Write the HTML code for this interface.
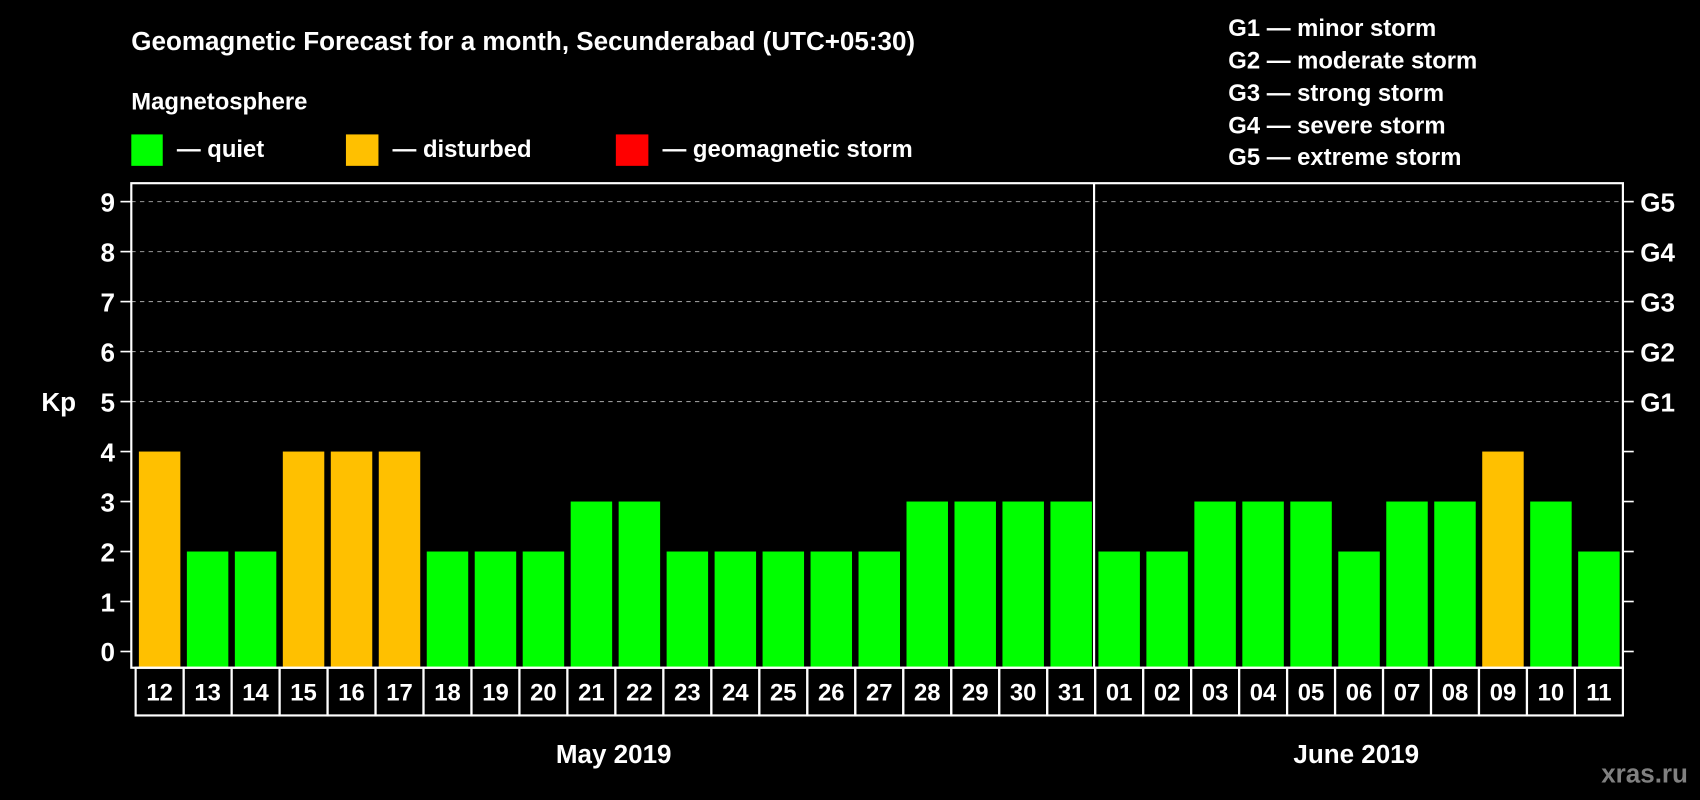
<!DOCTYPE html>
<html><head><meta charset="utf-8"><style>
html,body{margin:0;padding:0;background:#000;}
svg{display:block;font-family:"Liberation Sans",Arial,sans-serif;font-weight:bold;}
</style></head><body>
<svg id="chart" width="1700" height="800" viewBox="0 0 1568 738" xmlns="http://www.w3.org/2000/svg">
<rect width="1568" height="738" fill="#000"/>
<text x="121" y="46" fill="#fff" font-size="24">Geomagnetic Forecast for a month, Secunderabad (UTC+05:30)</text>
<text x="121" y="101" fill="#fff" font-size="22">Magnetosphere</text>
<g><rect x="121" y="124" width="29" height="29" fill="#00ff00"/><text x="163" y="145" fill="#fff" font-size="22">— quiet</text></g>
<g><rect x="319" y="124" width="30" height="29" fill="#ffc000"/><text x="362" y="145" fill="#fff" font-size="22">— disturbed</text></g>
<g><rect x="568" y="124" width="30" height="29" fill="#ff0000"/><text x="611" y="145" fill="#fff" font-size="22">— geomagnetic storm</text></g>
<g fill="#fff" font-size="22">
<text x="1133" y="33">G1 — minor storm</text>
<text x="1133" y="63">G2 — moderate storm</text>
<text x="1133" y="93">G3 — strong storm</text>
<text x="1133" y="123">G4 — severe storm</text>
<text x="1133" y="152">G5 — extreme storm</text>
</g>
<text x="38" y="379" fill="#fff" font-size="24">Kp</text>
<g id="grid"></g><g id="bars"></g><g id="axes"></g><g id="cells"></g>
<text x="566" y="704" fill="#fff" font-size="24" text-anchor="middle">May 2019</text>
<text x="1251" y="704" fill="#fff" font-size="24" text-anchor="middle">June 2019</text>
<text x="1557" y="722" fill="#808080" font-size="24" text-anchor="end">xras.ru</text>
</svg>
<script>
const days = ["12","13","14","15","16","17","18","19","20","21","22","23","24","25","26","27","28","29","30","31","01","02","03","04","05","06","07","08","09","10","11"];
const kpValues = [4,2,2,4,4,4,2,2,2,3,3,2,2,2,2,2,3,3,3,3,2,2,3,3,3,2,3,3,4,3,2];
const yTicks = [0,1,2,3,4,5,6,7,8,9];
const gLabels = ["","","","","","G1","G2","G3","G4","G5"];
const NS="http://www.w3.org/2000/svg";
const L=121,R=1497,T=169,B=616,X0=125;
const step=(R-X0)/days.length;
function y(v){return 601 - v*(601-186)/9;}
function x(i){return X0 + i*step;}
function mk(tag,attrs,parent){const e=document.createElementNS(NS,tag);for(const k in attrs)e.setAttribute(k,attrs[k]);parent.appendChild(e);return e;}
const grid=document.getElementById('grid'),bars=document.getElementById('bars'),axes=document.getElementById('axes'),cells=document.getElementById('cells');
yTicks.forEach((v,i)=>{
  if(v>=5){const g=mk('line',{x1:L,x2:R,y1:y(v),y2:y(v),stroke:'#999','stroke-width':1,'stroke-dasharray':'4,4'},grid);
  
  }
  const tl=mk('line',{x1:L-10,x2:L,y1:y(v),y2:y(v),stroke:'#fff','stroke-width':1.5},axes);
  
  
  const tr=mk('line',{x1:R,x2:R+10,y1:y(v),y2:y(v),stroke:'#fff','stroke-width':1.5},axes);
  
  
  const t=mk('text',{x:106,y:y(v)+9,fill:'#fff','font-size':24,'text-anchor':'end'},axes);t.textContent=v;
  
  
  if(gLabels[i]){const g=mk('text',{x:1513,y:y(v)+9,fill:'#fff','font-size':24},axes);g.textContent=gLabels[i];
  
  }
});
kpValues.forEach((v,i)=>{
  const col=v>=5?'#ff0000':(v>=4?'#ffc000':'#00ff00');
  const b=mk('rect',{x:x(i)+3,y:y(v),width:step-6,height:B-y(v),fill:col},bars);
  
  
  const c=mk('rect',{x:x(i),y:B,width:step,height:44,fill:'none',stroke:'#fff','stroke-width':2},cells);
  
  
  const t=mk('text',{x:x(i)+step/2,y:B+30,fill:'#fff','font-size':22,'text-anchor':'middle'},cells);t.textContent=days[i];
  
  
});
const frame=mk('rect',{x:L,y:T,width:R-L,height:B-T,fill:'none',stroke:'#fff','stroke-width':2},axes);


const split=days.indexOf("01");
const d=mk('line',{x1:x(split)-1,x2:x(split)-1,y1:T,y2:B,stroke:'#fff','stroke-width':2},axes);


</script>
</body></html>
